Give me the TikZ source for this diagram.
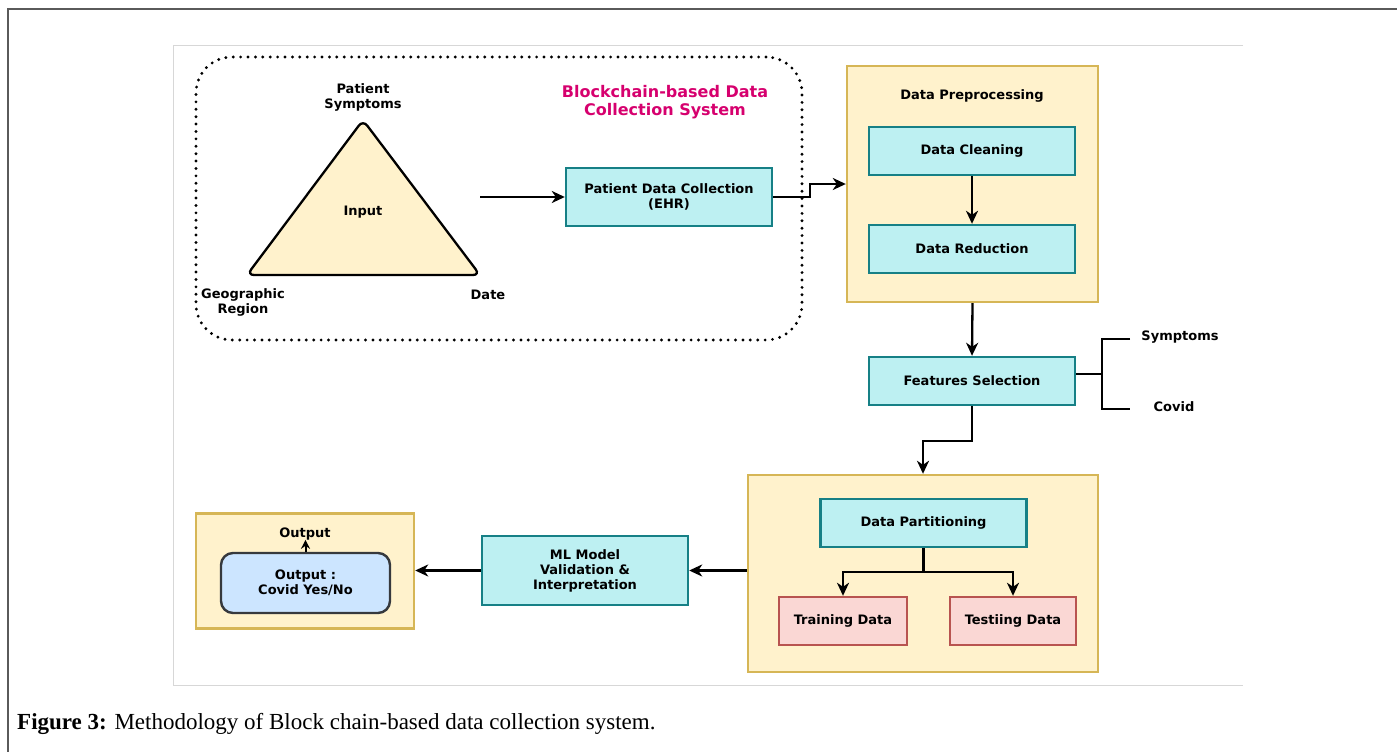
\documentclass[tikz,border=0pt]{standalone}
\usepackage{fontspec}
\setmainfont{DejaVu Sans}
\newfontfamily\capfont{Liberation Serif}
\usetikzlibrary{arrows.meta,calc}
\definecolor{cream}{RGB}{255,242,204}
\definecolor{gold}{RGB}{214,182,86}
\definecolor{cyanbg}{RGB}{189,240,242}
\definecolor{teal}{RGB}{22,128,134}
\definecolor{pinkbg}{RGB}{250,215,212}
\definecolor{pinkbd}{RGB}{184,84,80}
\definecolor{bluebg}{RGB}{204,229,255}
\definecolor{bluebd}{RGB}{54,57,61}
\definecolor{magenta2}{RGB}{214,0,110}
\definecolor{frame}{RGB}{90,90,90}
\definecolor{lightframe}{RGB}{215,215,215}
\tikzset{
  lbl/.style={font=\bfseries\fontsize{13}{15}\selectfont, align=center, inner sep=0pt},
  tealbox/.style={lbl, draw=teal, fill=cyanbg, line width=2.4pt},
  container/.style={draw=gold, fill=cream, line width=2.4pt, inner sep=0pt},
  pinkbox/.style={lbl, draw=pinkbd, fill=pinkbg, line width=2.4pt},
  bluebox/.style={lbl, draw=bluebd, fill=bluebg, line width=2.4pt, rounded corners=12pt},
  arr/.style={line width=2.3pt, -{Stealth[length=13pt,width=12pt,inset=4pt]}},
  plain/.style={line width=2.3pt},
}
\begin{document}
\begin{tikzpicture}[x=1pt,y=-1pt]
\useasboundingbox (0,0) rectangle (1397,752);
% outer frame
\draw[frame, line width=1.5pt] (8,752) -- (8,9) -- (1397,9);
% inner light frame
\draw[lightframe, line width=1pt] (1243,46) -- (173,46) -- (173,685) -- (1243,685);

% dotted blockchain region
\node[draw, line width=3.2pt, dash pattern=on 0pt off 7.4pt, line cap=round,
      rounded corners=36pt, minimum width=606pt, minimum height=283pt, inner sep=0pt]
      (chain) at (499,198.5) {};
\node[font=\bfseries\fontsize{16}{18}\selectfont, text=magenta2, align=center, inner sep=0pt]
      (title) at (665,102) {Blockchain-based Data\\Collection System};

% triangle
\draw[line width=2.3pt, fill=cream, rounded corners=7pt]
  (363,120) -- (480,275) -- (247,275) -- cycle;
\node[lbl] (input) at (363,212) {Input};
\node[lbl] (ps) at (363,97) {Patient\\Symptoms};
\node[lbl] (geo) at (243,302) {Geographic\\Region};
\node[lbl] (date) at (488,295) {Date};
\coordinate (tri) at (480,197);

\node[tealbox, minimum width=206pt, minimum height=58pt] (pdc) at (669,197)
      {Patient Data Collection\\(EHR)};

% preprocessing
\node[container, minimum width=251pt, minimum height=236pt] (dpc) at (972.5,184) {};
\node[lbl] (dpl) at (972,96) {Data Preprocessing};
\node[tealbox, minimum width=206pt, minimum height=48pt] (dc) at (972,151) {Data Cleaning};
\node[tealbox, minimum width=206pt, minimum height=48pt] (dr) at (972,249) {Data Reduction};

\node[tealbox, minimum width=206pt, minimum height=48pt] (fs) at (972,381) {Features Selection};
\node[lbl] (sym) at (1180,337) {Symptoms};
\node[lbl] (cov) at (1174,407) {Covid};
\coordinate (bj) at (1102,374);
\coordinate (bt) at (1102,339);
\coordinate (bb) at (1102,409);
\coordinate (btr) at (1130,339);
\coordinate (bbr) at (1130,409);

% partition container
\node[container, minimum width=350pt, minimum height=197pt] (c2) at (923,573.5) {};
\node[tealbox, minimum width=206pt, minimum height=48pt] (dpart) at (923.5,523) {Data Partitioning};
\node[pinkbox, minimum width=128pt, minimum height=48pt] (train) at (843,621) {Training Data};
\node[pinkbox, minimum width=126pt, minimum height=48pt] (test) at (1013,621) {Testiing Data};

\node[tealbox, minimum width=206pt, minimum height=69pt] (ml) at (585,570.5)
      {ML Model\\Validation \&\\Interpretation};

% output
\node[container, minimum width=218pt, minimum height=115pt] (outc) at (305,571) {};
\node[lbl] (outl) at (305,534) {Output};
\node[bluebox, minimum width=169pt, minimum height=60pt] (outin) at (305.5,583)
      {Output :\\Covid Yes/No};

% connectors
\draw[arr] (tri) -- (pdc.west);
\draw[arr] (pdc.east) -- ($(pdc.east)+(37,0)$) |- (dpc.west);
\draw[arr] (dc.south) -- (dr.north);
\draw[arr] (dpc.south) -- (fs.north);
\draw[plain] (fs.east |- bj) -- (bj);
\draw[plain] (btr) -- (bt) -- (bb) -- (bbr);
\draw[arr] (fs.south) -- ($(fs.south)+(0,35)$) -| (c2.north);
\draw[arr] (dpart.south) -- ($(dpart.south)+(0,24)$) -| (train.north);
\draw[arr] (dpart.south) -- ($(dpart.south)+(0,24)$) -| (test.north);
\draw[arr] (ml.east -| c2.west) -- (ml.east);
\draw[arr] (ml.west) -- (ml.west -| outc.east);
\draw[line width=2pt, -{Stealth[length=9pt,width=9pt,inset=3pt]}] (outin.north) -- ++(0,-12);

% caption
\node[anchor=base west, inner sep=0pt, font=\capfont\fontsize{23}{26}\selectfont] (cap) at (17,729)
  {\textbf{Figure 3:} Methodology of Block chain-based data collection system.};
\end{tikzpicture}
\end{document}
